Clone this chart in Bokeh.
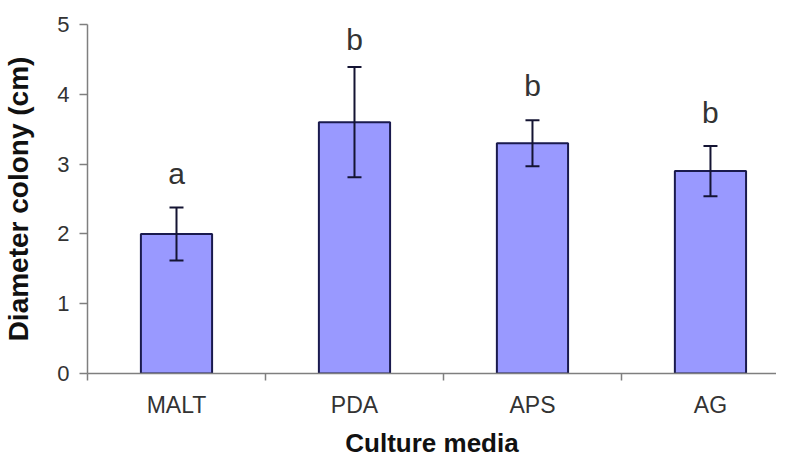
from bokeh.plotting import figure
from bokeh.models import Range1d, FixedTicker, Whisker, ColumnDataSource, TeeHead
from bokeh.core.properties import value
from bokeh.embed import file_html
from bokeh.resources import INLINE

media = ["MALT", "PDA", "APS", "AG"]
diameter = [2.0, 3.6, 3.3, 2.9]
error = [0.38, 0.79, 0.33, 0.36]
letters = ["a", "b", "b", "b"]
letter_y = [2.86, 4.78, 4.12, 3.74]
y_ticks = [0, 1, 2, 3, 4, 5]
x_title = "Culture media"
y_title = "Diameter colony (cm)"

xpos = [i + 0.5 for i in range(len(media))]
src = ColumnDataSource(dict(
    x=xpos, top=diameter,
    lower=[d - e for d, e in zip(diameter, error)],
    upper=[d + e for d, e in zip(diameter, error)],
    letter=letters, ly=letter_y,
))

FONT = "Liberation Sans"
AXIS = "#7f7f7f"
ERR = "#141433"

p = figure(width=776, height=460, x_range=Range1d(0, 3.871), y_range=Range1d(0, 5),
           output_backend="svg", toolbar_location=None,
           min_border_left=85, min_border_right=0, min_border_top=24, min_border_bottom=87)
p.outline_line_color = None
p.grid.visible = False
p.background_fill_color = "white"

p.vbar(x="x", top="top", width=0.4, bottom=0, source=src,
       fill_color="#9999FF", line_color="#1a1a4d", line_width=2)

w = Whisker(base="x", upper="upper", lower="lower", source=src, dimension="height",
            line_color=ERR, line_width=2, level="overlay",
            upper_head=TeeHead(size=14, line_color=ERR, line_width=2),
            lower_head=TeeHead(size=14, line_color=ERR, line_width=2))
p.add_layout(w)

p.text(x="x", y="ly", text="letter", source=src, text_align="center",
       text_baseline="alphabetic", text_font=value(FONT), text_font_size="30px",
       text_color="#333333")

# x axis
xa = p.xaxis[0]
xa.ticker = FixedTicker(ticks=xpos, minor_ticks=list(range(len(media) + 1)))
xa.major_label_overrides = {x: m for x, m in zip(xpos, media)}
xa.major_tick_line_color = None
xa.major_tick_out = 0
xa.major_tick_in = 0
xa.minor_tick_out = 7
xa.minor_tick_in = 0
xa.minor_tick_line_color = AXIS
xa.minor_tick_line_width = 1.5
xa.axis_line_color = AXIS
xa.axis_line_width = 1.5
xa.major_label_standoff = 11
xa.major_label_text_font = FONT
xa.major_label_text_font_size = "23px"
xa.major_label_text_color = "#333333"
xa.axis_label = x_title
xa.axis_label_standoff = 7
xa.axis_label_text_font = FONT
xa.axis_label_text_font_size = "26px"
xa.axis_label_text_font_style = "bold"
xa.axis_label_text_color = "#111111"

# y axis
ya = p.yaxis[0]
ya.ticker = FixedTicker(ticks=y_ticks)
ya.major_tick_out = 8
ya.major_tick_in = 0
ya.major_tick_line_color = AXIS
ya.major_tick_line_width = 1.5
ya.minor_tick_line_color = None
ya.axis_line_color = AXIS
ya.axis_line_width = 1.5
ya.major_label_standoff = 10
ya.major_label_text_font = FONT
ya.major_label_text_font_size = "22px"
ya.major_label_text_color = "#333333"
ya.axis_label = y_title
ya.axis_label_standoff = 20
ya.axis_label_text_font = FONT
ya.axis_label_text_font_size = "28px"
ya.axis_label_text_font_style = "bold"
ya.axis_label_text_color = "#111111"

open("out.html", "w").write(file_html(p, INLINE))
